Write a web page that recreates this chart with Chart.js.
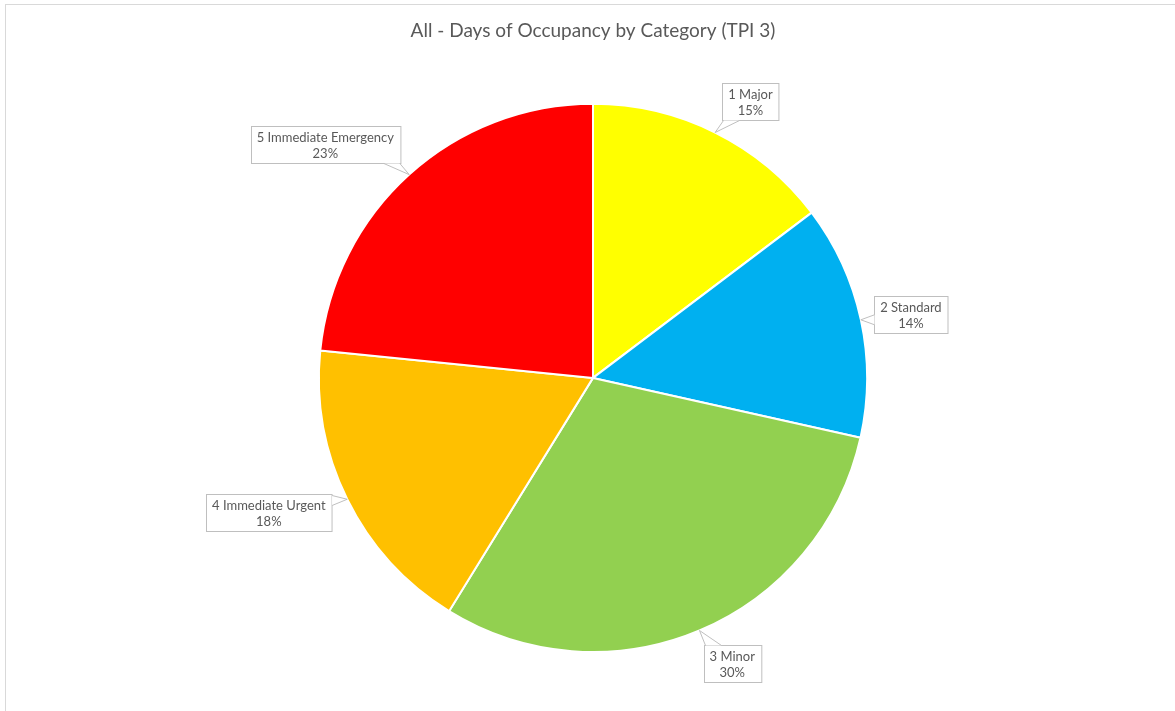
<!DOCTYPE html>
<html>
<head>
<meta charset="utf-8">
<script src="https://cdn.jsdelivr.net/npm/chart.js@4.4.1/dist/chart.umd.min.js"></script>
<style>
  html, body { margin: 0; padding: 0; background: #fff; }
  #wrap { position: relative; width: 1175px; height: 711px; overflow: hidden; }
  #frame { position: absolute; left: 5px; top: 4px; width: 1200px; height: 720px;
           border-left: 1px solid #d9d9d9; border-top: 1px solid #d9d9d9; }
  canvas { position: absolute; left: 0; top: 0; }
</style>
</head>
<body>
<div id="wrap">
  <div id="frame"></div>
  <canvas id="myChart" width="1175" height="711"></canvas>
</div>
<script>
// categories and their share of occupancy days
const categories = ['1 Major', '2 Standard', '3 Minor', '4 Immediate Urgent', '5 Immediate Emergency'];
const shares = [14.7, 13.8, 30.3, 17.8, 23.4];
const sliceColors = ['#FFFF00', '#00B0F0', '#92D050', '#FFC000', '#FF0000'];
const chartTitle = 'All - Days of Occupancy by Category (TPI 3)';

const fontFamily = 'Lato, "Open Sans", sans-serif';

// callout nudges (angle in degrees, extra distance past the rim)
const calloutNudge = [
    {da: 3.2, extra: 44},
    {da: 1.0, extra: 50},
    {da: -3.1, extra: 44},
    {da: 3.7, extra: 77},
    {da: -6.8, extra: 81}
];

const calloutPlugin = {
    id: 'callouts',
    afterDatasetsDraw(chart) {
        const ctx = chart.ctx;
        const meta = chart.getDatasetMeta(0);
        const data = chart.data.datasets[0].data;
        const total = data.reduce((a, b) => a + b, 0);
        ctx.save();
        ctx.font = '13px ' + fontFamily;
        meta.data.forEach((arc, i) => {
            const mid = (arc.startAngle + arc.endAngle) / 2;
            const r = arc.outerRadius;
            const cx = arc.x, cy = arc.y;
            const tip = {x: cx + Math.cos(mid) * r, y: cy + Math.sin(mid) * r};

            const n = calloutNudge[i];
            const a = mid + n.da * Math.PI / 180;
            const bx = cx + Math.cos(a) * (r + n.extra);
            const by = cy + Math.sin(a) * (r + n.extra);

            const line1 = categories[i];
            const line2 = Math.round(data[i] / total * 100) + '%';
            const w = Math.max(ctx.measureText(line1).width, ctx.measureText(line2).width) + 12;
            const h = 37;
            const x0 = Math.round(bx - w / 2) + 0.5, y0 = Math.round(by - h / 2) + 0.5;

            // box
            ctx.fillStyle = '#ffffff';
            ctx.strokeStyle = '#bfbfbf';
            ctx.lineWidth = 1;
            ctx.fillRect(x0, y0, w, h);
            ctx.strokeRect(x0, y0, w, h);

            // wedge base on the side facing the tip
            let p1, p2;
            const dx = tip.x - bx, dy = tip.y - by;
            if (Math.abs(dx) / w > Math.abs(dy) / h) {
                const ex = dx > 0 ? x0 + w : x0;
                const yb = Math.min(Math.max(tip.y, y0 + 3), y0 + h - 3);
                const yy = Math.min(Math.max(yb - 5, y0 + 1), y0 + h - 11);
                p1 = {x: ex, y: yy}; p2 = {x: ex, y: yy + 10};
            } else {
                const ey = dy > 0 ? y0 + h : y0;
                const xb = Math.min(Math.max(tip.x, x0 + 3), x0 + w - 3);
                const xx = Math.min(Math.max(xb - 8, x0 + 1), x0 + w - 17);
                p1 = {x: xx, y: ey}; p2 = {x: xx + 16, y: ey};
            }
            ctx.beginPath();
            ctx.moveTo(p1.x, p1.y);
            ctx.lineTo(tip.x, tip.y);
            ctx.lineTo(p2.x, p2.y);
            ctx.closePath();
            ctx.fill();
            ctx.beginPath();
            ctx.moveTo(p1.x, p1.y);
            ctx.lineTo(tip.x, tip.y);
            ctx.lineTo(p2.x, p2.y);
            ctx.stroke();

            // text
            ctx.fillStyle = '#595959';
            ctx.textAlign = 'center';
            ctx.textBaseline = 'middle';
            ctx.fillText(line1, bx, y0 + 11);
            ctx.fillText(line2, bx, y0 + 27);
        });
        ctx.restore();
    }
};

const ctx = document.getElementById('myChart');
const myChart = new Chart(ctx, {
    type: 'pie',
    data: {
        labels: categories,
        datasets: [{
            data: shares,
            backgroundColor: sliceColors,
            borderColor: '#ffffff',
            borderWidth: 2
        }]
    },
    options: {
        responsive: false,
        animation: false,
        layout: {
            padding: {left: 11, right: 0, top: 0, bottom: 58}
        },
        plugins: {
            legend: {display: false},
            tooltip: {enabled: false},
            title: {
                display: true,
                text: chartTitle,
                color: '#595959',
                font: {family: fontFamily, size: 19, weight: 'normal'},
                padding: {top: 19, bottom: 61}
            }
        }
    },
    plugins: [calloutPlugin]
});
</script>
</body>
</html>
